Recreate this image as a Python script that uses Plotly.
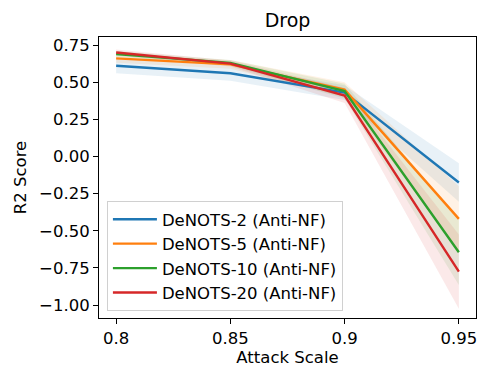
import plotly.graph_objects as go

attack_scale = [0.8, 0.85, 0.9, 0.95]
x_tick_labels = ["0.8", "0.85", "0.9", "0.95"]

series_names = ["DeNOTS-2 (Anti-NF)", "DeNOTS-5 (Anti-NF)", "DeNOTS-10 (Anti-NF)", "DeNOTS-20 (Anti-NF)"]
denots2_mean = [0.61, 0.56, 0.43, -0.175]
denots5_mean = [0.66, 0.62, 0.45, -0.42]
denots10_mean = [0.69, 0.63, 0.44, -0.645]
denots20_mean = [0.70, 0.625, 0.41, -0.775]
denots2_std = [0.05, 0.05, 0.05, 0.13]
denots5_std = [0.03, 0.03, 0.05, 0.22]
denots10_std = [0.02, 0.02, 0.05, 0.22]
denots20_std = [0.02, 0.02, 0.05, 0.25]

colors = ["#1f77b4", "#ff7f0e", "#2ca02c", "#d62728"]
fills = ["rgba(31,119,180,0.1)", "rgba(255,127,14,0.1)", "rgba(44,160,44,0.1)", "rgba(214,39,40,0.1)"]

means = [denots2_mean, denots5_mean, denots10_mean, denots20_mean]
stds = [denots2_std, denots5_std, denots10_std, denots20_std]

fig = go.Figure()
for name, m, s, c, f in zip(series_names, means, stds, colors, fills):
    upper = [a + b for a, b in zip(m, s)]
    lower = [a - b for a, b in zip(m, s)]
    fig.add_trace(go.Scatter(
        x=attack_scale + attack_scale[::-1],
        y=upper + lower[::-1],
        fill="toself", fillcolor=f, line=dict(width=0), mode="lines",
        showlegend=False, hoverinfo="skip"))
for name, m, c in zip(series_names, means, colors):
    fig.add_trace(go.Scatter(
        x=attack_scale, y=m, mode="lines", name=name, legendgroup=name,
        line=dict(color=c, width=2.4)))

font = "DejaVu Sans, sans-serif"
fig.update_layout(
    width=491, height=383,
    margin=dict(l=91, r=23, t=29, b=73, autoexpand=False),
    paper_bgcolor="white", plot_bgcolor="white",
    font=dict(family=font, size=16, color="black"),
    title=dict(text="Drop", x=0.5, xanchor="center", xref="paper", y=0.969, yanchor="middle",
               font=dict(size=19)),
    showlegend=True,
    legend=dict(x=0.021, y=0.025, xanchor="left", yanchor="bottom",
                bgcolor="rgba(255,255,255,0.8)", bordercolor="#d0d0d0", borderwidth=1,
                font=dict(size=16.5), traceorder="grouped", tracegroupgap=0, itemwidth=44),
    xaxis=dict(range=[0.7925, 0.9575], tickvals=attack_scale, ticktext=x_tick_labels,
               showgrid=False, zeroline=False, showline=True, linecolor="black", linewidth=1,
               mirror=True, ticks="outside", ticklen=5, tickcolor="black", automargin=False,
               tickfont=dict(size=16.5),
               title=dict(text="Attack Scale", standoff=4, font=dict(size=16.5))),
    yaxis=dict(range=[-1.0875, 0.804], tickvals=[-1.0, -0.75, -0.5, -0.25, 0.0, 0.25, 0.5, 0.75],
               tickformat=".2f",
               showgrid=False, zeroline=False, showline=True, linecolor="black", linewidth=1,
               mirror=True, ticks="outside", ticklen=5, tickcolor="black", automargin=False,
               tickfont=dict(size=16.5),
               title=dict(text="R2 Score", standoff=8, font=dict(size=16.5))),
)
fig.write_html("out.html")
